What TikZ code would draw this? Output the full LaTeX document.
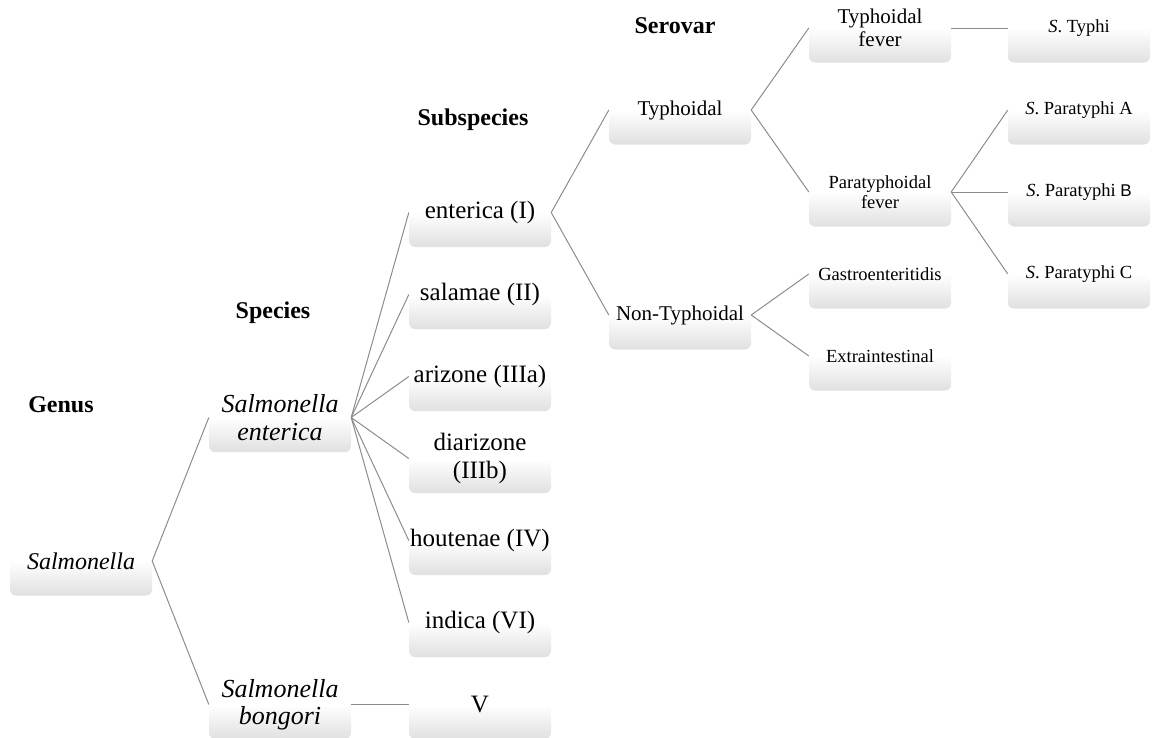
\documentclass[tikz,border=0pt]{standalone}
\usepackage{fontspec}
\setmainfont{Liberation Serif}
\newfontfamily\sansB{Liberation Sans}
\definecolor{boxbot}{RGB}{224,224,224}
\definecolor{linkgray}{RGB}{140,140,140}
\begin{document}
\begin{tikzpicture}[x=1pt,y=-1pt,
  box/.style={rectangle, rounded corners=6pt, minimum width=142pt, minimum height=69pt,
    inner sep=0pt, align=center, top color=white, bottom color=boxbot, middle color=white},
  fA/.style={font=\fontsize{24}{26.5}\selectfont\itshape},
  fB/.style={font=\fontsize{26}{27.5}\selectfont\itshape},
  fC/.style={font=\fontsize{25}{28}\selectfont},
  fD/.style={font=\fontsize{21}{22.5}\selectfont},
  fE/.style={font=\fontsize{18.5}{20}\selectfont},
  hdr/.style={font=\fontsize{24}{26}\selectfont\bfseries, inner sep=0pt},
  link/.style={draw=linkgray, line width=1pt}]
\path[use as bounding box, clip] (0,0) rectangle (1152,737);

% headers
\node[hdr] (hgenus) at (61,405) {Genus};
\node[hdr] (hspecies) at (273,313) {Species};
\node[hdr] (hsub) at (473,120) {Subspecies};
\node[hdr] (hsero) at (675,26) {Serovar};

% genus
\node[box,fA] (genus) at (81,561) {Salmonella};
% species
\node[box,fB] (sent) at (280,417.5) {Salmonella\\enterica};
\node[box,fB] (sbon) at (280,704.5) {Salmonella\\bongori};
% subspecies
\node[box,fC] (s1) at (480,212.5) {enterica (I)};
\node[box,fC] (s2) at (480,294.5) {salamae (II)};
\node[box,fC] (s3) at (480,376.5) {arizone (IIIa)};
\node[box,fC] (s4) at (480,458.5) {diarizone\\(IIIb)};
\node[box,fC] (s5) at (480,540.5) {houtenae (IV)};
\node[box,fC] (s6) at (480,622.5) {indica (VI)};
\node[box,fC] (s7) at (480,704.5) {V};
% typhoidal
\node[box,fD] (typ) at (680,110) {Typhoidal};
\node[box,fD] (ntyp) at (680,315) {Non-Typhoidal};
% disease
\node[box,fD] (tf) at (880,28) {Typhoidal\\fever};
\node[box,fE] (ptf) at (880,192) {Paratyphoidal\\fever};
\node[box,fE] (gas) at (880,274) {Gastroenteritidis};
\node[box,fE] (ext) at (880,356) {Extraintestinal};
% serovars
\node[box,fE] (sty) at (1079,28) {\textit{S}. Typhi};
\node[box,fE] (spa) at (1079,110) {\textit{S}. Paratyphi A};
\node[box,fE] (spb) at (1079,192) {\textit{S}. Paratyphi {\sansB\fontsize{17}{19}\selectfont B}};
\node[box,fE] (spc) at (1079,274) {\textit{S}. Paratyphi C};

% connectors
\draw[link] (genus.east) -- (sent.west);
\draw[link] (genus.east) -- (sbon.west);
\foreach \s in {s1,s2,s3,s4,s5,s6} \draw[link] (sent.east) -- (\s.west);
\draw[link] (sbon.east) -- (s7.west);
\draw[link] (s1.east) -- (typ.west);
\draw[link] (s1.east) -- (ntyp.west);
\draw[link] (typ.east) -- (tf.west);
\draw[link] (typ.east) -- (ptf.west);
\draw[link] (ntyp.east) -- (gas.west);
\draw[link] (ntyp.east) -- (ext.west);
\draw[link] (tf.east) -- (sty.west);
\draw[link] (ptf.east) -- (spa.west);
\draw[link] (ptf.east) -- (spb.west);
\draw[link] (ptf.east) -- (spc.west);
\end{tikzpicture}
\end{document}
